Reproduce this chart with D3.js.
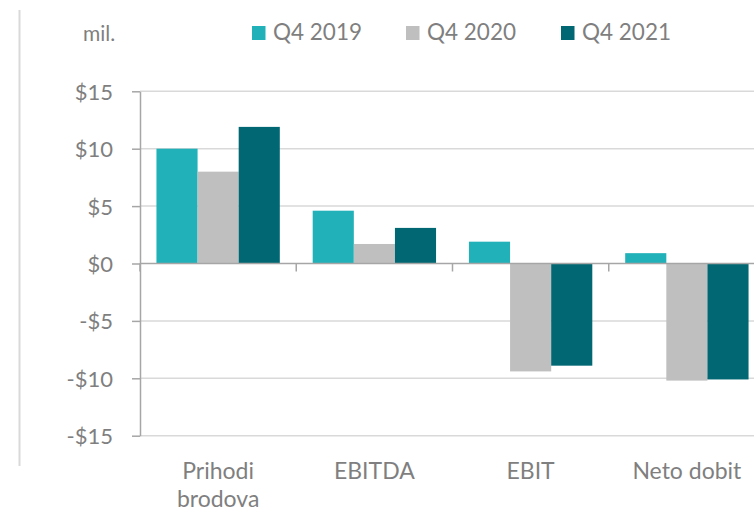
<!DOCTYPE html>
<html>
<head>
<meta charset="utf-8">
<script src="https://cdn.jsdelivr.net/npm/d3@7"></script>
<style>
  html, body { margin: 0; padding: 0; background: #fff; }
  svg { display: block; }
  text { font-family: Lato, "Open Sans", sans-serif; fill: #7f7f7f; }
</style>
</head>
<body>
<svg id="chart" width="754" height="513"></svg>
<script>
const categories = [["Prihodi", "brodova"], ["EBITDA"], ["EBIT"], ["Neto dobit"]];
const series = ["Q4 2019", "Q4 2020", "Q4 2021"];
const colors = ["#21b1b8", "#bfbfbf", "#016772"];
const q4_2019 = [10.0, 4.6, 1.9, 0.9];
const q4_2020 = [8.0, 1.7, -9.4, -10.2];
const q4_2021 = [11.9, 3.1, -8.9, -10.1];
const yTicks = [15, 10, 5, 0, -5, -10, -15];
const unitLabel = "mil.";

const values = [q4_2019, q4_2020, q4_2021];
const catKeys = categories.map(c => c.join(" "));

const svg = d3.select("#chart");
const mLeft = 140, mRight = 765, mTop = 91.3, mBottom = 435.7;

const x0 = d3.scaleBand().domain(catKeys).range([mLeft, mRight]).paddingInner(0).paddingOuter(0);
const x1 = d3.scaleBand().domain(series).range([0, x0.bandwidth()]).paddingInner(0).paddingOuter(0.4);
const y = d3.scaleLinear().domain([-15, 15]).range([mBottom, mTop]);

// left border line
svg.append("line").attr("x1", 19.5).attr("x2", 19.5).attr("y1", 10).attr("y2", 466)
  .attr("stroke", "#d9d9d9").attr("stroke-width", 2);

// gridlines
svg.append("g").selectAll("line").data(yTicks.filter(t => t !== 0)).join("line")
  .attr("x1", mLeft).attr("x2", mRight)
  .attr("y1", d => y(d)).attr("y2", d => y(d))
  .attr("stroke", "#d9d9d9").attr("stroke-width", 1.5);

// bars
const rows = [];
catKeys.forEach((c, i) => series.forEach((s, j) => rows.push({ c, s, v: values[j][i], color: colors[j] })));
svg.append("g").selectAll("rect").data(rows).join("rect")
  .attr("x", d => x0(d.c) + x1(d.s))
  .attr("width", x1.bandwidth())
  .attr("y", d => y(Math.max(0, d.v)))
  .attr("height", d => Math.abs(y(d.v) - y(0)))
  .attr("fill", d => d.color);

// y axis
const fmt = v => v < 0 ? "-$" + Math.abs(v) : "$" + v;
const yAxis = svg.append("g").attr("transform", `translate(${mLeft},0)`)
  .call(d3.axisLeft(y).tickValues(yTicks).tickFormat(fmt).tickSize(8).tickPadding(19).tickSizeOuter(0));
yAxis.select(".domain").attr("stroke", "#a6a6a6").attr("stroke-width", 1.5);
yAxis.selectAll(".tick line").attr("stroke", "#a6a6a6").attr("stroke-width", 1.5);
yAxis.selectAll(".tick text").style("font-size", "22px").attr("fill", "#7f7f7f")
  .style("font-family", "Lato, 'Open Sans', sans-serif").attr("dy", "0.36em");

// x axis line at zero with category boundary ticks
const xAxis = svg.append("g").attr("transform", `translate(0,${y(0)})`);
xAxis.append("line").attr("x1", mLeft).attr("x2", mRight).attr("y1", 0).attr("y2", 0)
  .attr("stroke", "#a6a6a6").attr("stroke-width", 1.5);
const bounds = catKeys.map(c => x0(c)).concat([mRight]);
xAxis.selectAll("line.tk").data(bounds).join("line").attr("class", "tk")
  .attr("x1", d => d).attr("x2", d => d).attr("y1", 0).attr("y2", 8)
  .attr("stroke", "#a6a6a6").attr("stroke-width", 1.5);

// category labels
const lab = svg.append("g").selectAll("text").data(categories).join("text")
  .attr("text-anchor", "middle")
  .attr("x", (d, i) => x0(catKeys[i]) + x0.bandwidth() / 2)
  .attr("y", 479)
  .style("font-size", "23px");
lab.selectAll("tspan").data(d => d).join("tspan")
  .attr("x", function () { return d3.select(this.parentNode).attr("x"); })
  .attr("dy", (d, i) => i === 0 ? 0 : 28)
  .text(d => d);

// unit label
svg.append("text").attr("x", 83).attr("y", 41).style("font-size", "21px").text(unitLabel);

// legend
const legX = [252, 406, 561];
const leg = svg.append("g").selectAll("g").data(series).join("g")
  .attr("transform", (d, i) => `translate(${legX[i]},0)`);
leg.append("rect").attr("x", 0).attr("y", 26).attr("width", 13.5).attr("height", 14)
  .attr("fill", (d, i) => colors[i]);
leg.append("text").attr("x", 21).attr("y", 40).style("font-size", "22.5px").text(d => d);
</script>
</body>
</html>
